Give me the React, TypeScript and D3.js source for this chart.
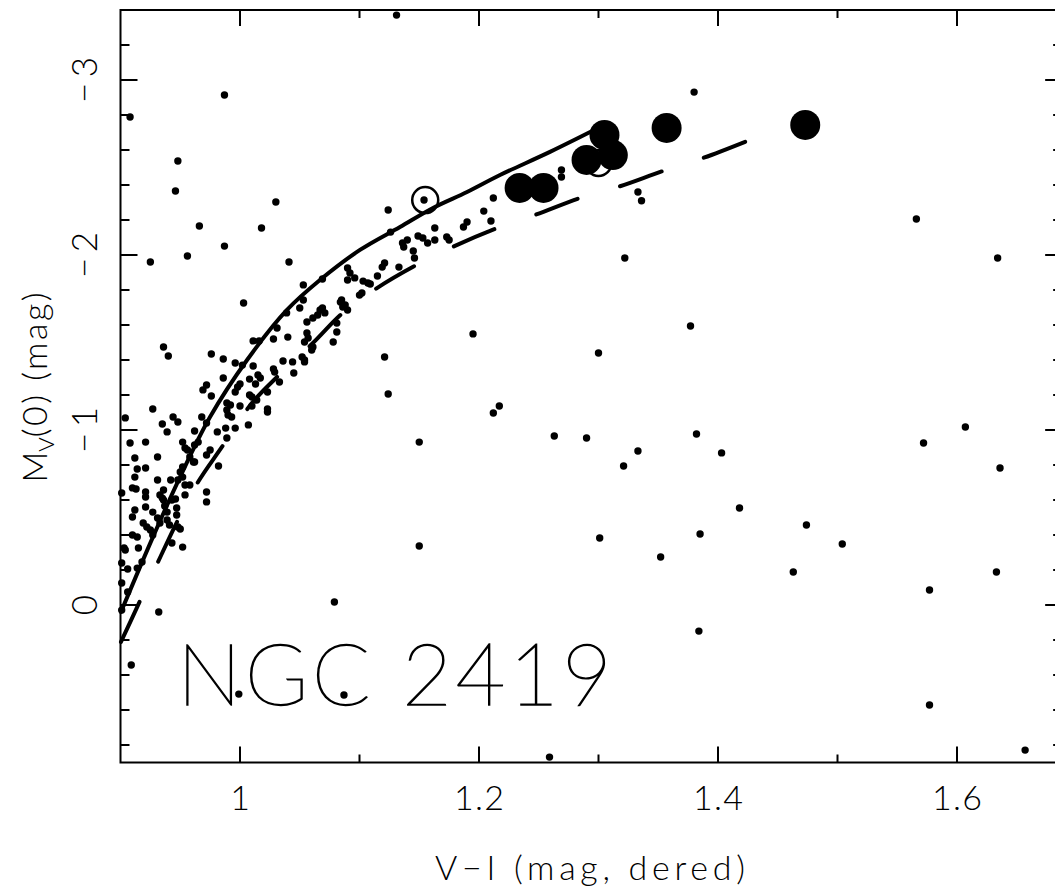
import React from 'react';
import * as d3 from 'd3';

// ---- Data ----
const xDomain: [number, number] = [0.9, 1.688];
const yDomain: [number, number] = [-3.4, 0.9];
const xMajorTicks = [1.0, 1.2, 1.4, 1.6];
const xTickLabels = ['1', '1.2', '1.4', '1.6'];
const xMinorTicks = [1.1, 1.3, 1.5];
const yMajorTicks = [-3, -2, -1, 0];
const yTickLabels = ['\u22123', '\u22122', '\u22121', '0'];
const yMinorTicks = [-3.2, -2.8, -2.6, -2.4, -2.2, -1.8, -1.6, -1.4, -1.2, -0.8, -0.6, -0.4, -0.2, 0.2, 0.4, 0.6, 0.8];

// field / cluster stars: [V-I, Mv]
const fieldStars: [number, number][] = [
  [0.908,-2.789],[0.987,-2.914],[0.948,-2.537],[0.946,-2.366],[1.030,-2.303],[0.966,-2.166],[1.018,-2.154],
  [0.956,-1.994],[0.925,-1.960],[0.987,-2.051],[1.041,-1.960],[1.131,-3.371],[1.380,-2.931],[1.333,-2.360],
  [1.336,-2.310],[1.322,-1.983],[1.269,-2.486],[1.269,-2.446],[1.212,-2.326],[1.154,-2.314],[1.124,-2.257],
  [1.566,-2.206],[1.634,-1.983],[1.607,-1.017],[1.572,-0.926],[1.636,-0.783],[1.377,-1.594],[1.300,-1.440],
  [1.195,-1.549],[1.121,-1.417],[1.124,-1.206],[1.217,-1.137],[1.212,-1.097],[1.263,-0.966],[1.290,-0.954],
  [1.382,-0.977],[1.333,-0.880],[1.403,-0.869],[1.321,-0.794],[1.418,-0.554],[1.474,-0.457],[1.385,-0.406],
  [1.301,-0.383],[1.504,-0.349],[1.150,-0.337],[1.352,-0.274],[1.463,-0.189],[1.633,-0.189],[1.577,-0.086],
  [1.384,0.149],[1.577,0.571],[1.657,0.829],[1.079,-0.017],[0.909,0.343],[0.932,0.040],[0.999,0.509],
  [1.087,0.514],[1.259,0.869],[1.150,-0.931],
  [1.163,-2.154],[1.204,-2.251],[1.210,-2.194],[1.190,-2.189],[1.187,-2.160],[1.173,-2.103],[1.175,-2.086],
  [1.163,-2.086],[1.157,-2.069],[1.149,-2.109],[1.153,-2.097],[1.140,-2.086],[1.136,-2.069],[1.137,-2.046],
  [1.145,-2.023],[1.146,-1.983],[1.126,-2.131],[1.121,-1.954],[1.119,-1.931],[1.133,-1.931],[1.115,-1.880],
  [1.090,-1.926],[1.092,-1.897],[1.090,-1.857],[1.096,-1.869],[1.103,-1.851],[1.107,-1.840],[1.109,-1.834],
  [1.100,-1.771],[1.102,-1.783],[1.069,-1.863],[1.053,-1.829],[1.085,-1.743],[1.088,-1.714],[1.069,-1.697],
  [1.053,-1.743],
  [1.003,-1.726],[1.050,-1.697],[1.084,-1.731],[1.086,-1.703],[1.090,-1.686],[1.067,-1.686],[1.071,-1.669],
  [1.065,-1.657],[1.061,-1.640],[1.056,-1.617],[1.081,-1.611],[1.081,-1.560],[1.031,-1.583],[1.056,-1.554],
  [1.054,-1.503],[1.057,-1.526],[1.061,-1.474],[1.060,-1.457],[1.078,-1.503],[1.028,-1.520],[1.040,-1.531],
  [1.011,-1.509],[1.016,-1.509],[1.052,-1.417],[1.054,-1.400],[1.054,-1.389],[1.044,-1.389],[1.036,-1.394],
  [1.045,-1.326],[0.976,-1.434],[0.986,-1.406],[0.996,-1.383],[1.002,-1.371],[1.011,-1.366],[1.028,-1.349],
  [1.029,-1.331],[1.015,-1.314],[1.017,-1.297],[1.008,-1.291],[0.986,-1.297],[1.033,-1.274],[1.013,-1.263],
  [1.000,-1.263],[0.998,-1.246],[0.972,-1.257],[0.969,-1.229],[0.976,-1.194],[0.996,-1.217],[1.023,-1.217],
  [1.008,-1.200],[1.010,-1.189],[1.014,-1.171],[0.989,-1.154],[0.992,-1.143],[1.000,-1.137],[1.010,-1.137],
  [1.023,-1.120],[1.023,-1.103],[0.989,-1.114],[0.990,-1.086],[0.968,-1.074],[0.993,-1.074],[1.039,-1.669],
  [0.927,-1.120],[0.904,-1.069],[0.935,-1.034],[0.939,-0.989],[0.944,-1.074],[0.948,-1.046],[0.972,-1.040],
  [0.962,-0.994],[0.908,-0.926],[0.921,-0.931],[0.952,-0.931],[0.954,-0.897],[0.956,-0.886],[0.931,-0.846],
  [0.912,-0.840],[0.962,-0.817],[0.914,-0.777],[0.912,-0.731],[0.921,-0.783],[0.952,-0.789],[0.950,-0.760],
  [0.952,-0.731],[0.948,-0.714],[0.931,-0.714],[0.942,-0.714],[0.954,-0.686],[0.958,-0.686],[0.910,-0.669],
  [0.913,-0.663],[0.972,-0.646],[0.972,-0.589],[0.901,-0.640],[0.921,-0.646],[0.921,-0.617],[0.936,-0.657],
  [0.933,-0.629],[0.935,-0.611],[0.936,-0.600],[0.954,-0.629],[0.943,-0.600],[0.946,-0.606],[0.912,-0.543],
  [0.910,-0.503],[0.921,-0.560],[0.927,-0.531],[0.947,-0.554],[0.947,-0.514],[0.937,-0.566],[0.939,-0.531],
  [0.919,-0.469],[0.922,-0.446],[0.931,-0.497],[0.933,-0.469],[0.939,-0.486],[0.941,-0.457],[0.948,-0.446],
  [0.996,-1.011],[0.988,-1.011],[0.981,-0.989],[0.989,-0.954],[1.007,-1.029],[0.982,-0.794],[0.972,-0.857],
  [0.975,-0.886],[0.958,-0.846],[0.961,-0.817],[0.962,-0.914],[0.965,-0.931],
  [0.925,-0.429],[0.927,-0.400],[0.910,-0.400],[0.914,-0.389],[0.903,-0.326],[0.904,-0.314],[0.915,-0.326],
  [0.918,-0.246],[0.901,-0.240],[0.906,-0.206],[0.914,-0.211],[0.901,-0.126],[0.906,-0.074],[0.950,-0.434],
  [0.943,-0.354],[0.952,-0.331],[0.901,0.029],[0.936,-1.474],[0.940,-1.423]
];

// bright variables / giants
const filledStars: [number, number][] = [
  [1.234,-2.383],[1.254,-2.383],[1.290,-2.543],[1.312,-2.571],[1.305,-2.686],[1.357,-2.726],[1.473,-2.743]
];
const openStars: [number, number][] = [
  [1.155,-2.314],[1.300,-2.526]
];

// isochrone-like tracks
const solidTrack: [number, number][] = [
  [0.9004,0.040],[0.9272,-0.389],[0.9498,-0.731],[0.9749,-1.074],[1.0059,-1.400],[1.0393,-1.686],
  [1.0669,-1.857],[1.1004,-2.029],[1.1339,-2.160],[1.1615,-2.269],[1.1900,-2.360],[1.2176,-2.457],
  [1.2594,-2.589],[1.3013,-2.731]
];
const dashedTrack: [number, number][] = [
  [0.9004,0.211],[0.9163,-0.023],[0.9314,-0.246],[0.9481,-0.486],[0.9649,-0.703],[0.9849,-0.903],
  [1.0100,-1.154],[1.0310,-1.303],[1.0610,-1.497],[1.0860,-1.669],[1.1146,-1.811],[1.1460,-1.937],
  [1.1780,-2.046],[1.2134,-2.149],[1.2469,-2.229],[1.2845,-2.326],[1.3163,-2.389],[1.3540,-2.480],
  [1.3874,-2.554],[1.4243,-2.651]
];

const W = 1055, H = 891;
const L = 120.5, T = 10, B = 762.5;
const x = d3.scaleLinear().domain(xDomain).range([L, L + (xDomain[1] - xDomain[0]) * 1195]);
const y = d3.scaleLinear().domain(yDomain).range([T, B]);
const R = x(xDomain[1]);

const FONT = 'Lato, "Open Sans", "DejaVu Sans", sans-serif';

export default function App() {
  const line = d3.line<[number, number]>().x(d => x(d[0])).y(d => y(d[1])).curve(d3.curveCatmullRom);
  return (
    <svg width={W} height={H} style={{ position: 'absolute', left: 0, top: 0, background: '#fff' }}>
      <rect x={0} y={0} width={W} height={H} fill="#fff" />
      {/* points */}
      {fieldStars.map((d, i) => (
        <circle key={'f' + i} cx={x(d[0])} cy={y(d[1])} r={3.7} fill="#000" />
      ))}
      <path d={line(solidTrack) || ''} fill="none" stroke="#000" strokeWidth={4} strokeLinecap="round" strokeLinejoin="round" />
      <path d={line(dashedTrack) || ''} fill="none" stroke="#000" strokeWidth={4} strokeLinecap="round" strokeDasharray="44 44.5" />
      {openStars.map((d, i) => (
        <circle key={'o' + i} cx={x(d[0])} cy={y(d[1])} r={13} fill="none" stroke="#000" strokeWidth={2.5} />
      ))}
      {filledStars.map((d, i) => (
        <circle key={'b' + i} cx={x(d[0])} cy={y(d[1])} r={15} fill="#000" />
      ))}
      {/* frame */}
      <rect x={L} y={T} width={R - L} height={B - T} fill="none" stroke="#000" strokeWidth={2} />
      {xMajorTicks.map((t, i) => (
        <g key={'xm' + i}>
          <line x1={x(t)} x2={x(t)} y1={B} y2={B - 16} stroke="#000" strokeWidth={2} />
          <line x1={x(t)} x2={x(t)} y1={T} y2={T + 16} stroke="#000" strokeWidth={2} />
          <text x={x(t)} y={810} fontSize={34} fontFamily={FONT} fontWeight={300} textAnchor="middle"
            {...(xTickLabels[i].length > 1 ? { textLength: 50, lengthAdjust: 'spacing' } : {})}>{xTickLabels[i]}</text>
        </g>
      ))}
      {xMinorTicks.map((t, i) => (
        <g key={'xn' + i}>
          <line x1={x(t)} x2={x(t)} y1={B} y2={B - 8} stroke="#000" strokeWidth={2} />
          <line x1={x(t)} x2={x(t)} y1={T} y2={T + 8} stroke="#000" strokeWidth={2} />
        </g>
      ))}
      {yMajorTicks.map((t, i) => (
        <g key={'ym' + i}>
          <line x1={L} x2={L + 17} y1={y(t)} y2={y(t)} stroke="#000" strokeWidth={2} />
          <line x1={R} x2={R - 17} y1={y(t)} y2={y(t)} stroke="#000" strokeWidth={2} />
          <text transform={`translate(97,${y(t)}) rotate(-90)`} fontSize={35} fontFamily={FONT} fontWeight={300} textAnchor="middle"
            {...(yTickLabels[i].length > 1 ? { textLength: 46, lengthAdjust: 'spacing' } : {})}>{yTickLabels[i]}</text>
        </g>
      ))}
      {yMinorTicks.map((t, i) => (
        <g key={'yn' + i}>
          <line x1={L} x2={L + 9} y1={y(t)} y2={y(t)} stroke="#000" strokeWidth={2} />
          <line x1={R} x2={R - 9} y1={y(t)} y2={y(t)} stroke="#000" strokeWidth={2} />
        </g>
      ))}
      {/* titles */}
      <text x={590} y={880} fontSize={34} fontFamily={FONT} fontWeight={300} textAnchor="middle" textLength={310} lengthAdjust="spacing">V{'\u2212'}I (mag, dered)</text>
      <text transform={`translate(47,${(T + B) / 2}) rotate(-90)`} fontSize={34} fontFamily={FONT} fontWeight={300} textAnchor="middle">
        <tspan>M</tspan>
        <tspan dy={7} fontSize={22}>V</tspan>
        <tspan dy={-7} letterSpacing={2.5}>(0) (mag)</tspan>
      </text>
      <text x={177} y={705} fontSize={86} fontFamily={FONT} fontWeight={100} fill="#000" stroke="#000" strokeWidth={1.4} textLength={435} lengthAdjust="spacing">NGC 2419</text>
    </svg>
  );
}
